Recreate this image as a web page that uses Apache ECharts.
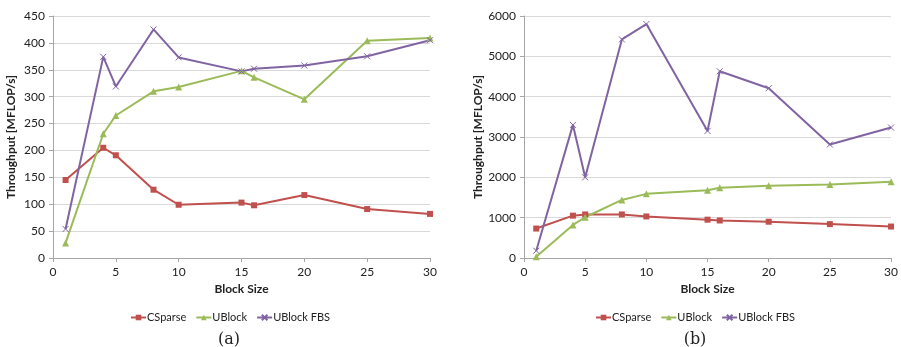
<!DOCTYPE html>
<html>
<head>
<meta charset="utf-8">
<script src="https://cdn.jsdelivr.net/npm/echarts@6/dist/echarts.min.js"></script>
<style>
  html, body { margin: 0; padding: 0; background: #fff; }
  #chart { width: 901px; height: 347px; }
</style>
</head>
<body>
<div id="chart"></div>
<script>
// Block sizes measured
const blockSizes = [1, 4, 5, 8, 10, 15, 16, 20, 25, 30];

// Panel (a) throughput, MFLOP/s
const csparseA = [145, 205, 191, 127, 99, 103, 98, 117, 91, 82];
const ublockA = [28, 231, 265, 310, 318, 348, 336, 295, 404, 409];
const ublockFbsA = [54, 374, 319, 425, 373, 347, 352, 358, 375, 405];

// Panel (b) throughput, MFLOP/s
const csparseB = [730, 1050, 1080, 1080, 1030, 950, 930, 900, 840, 780];
const ublockB = [30, 820, 1010, 1440, 1590, 1680, 1740, 1790, 1820, 1890];
const ublockFbsB = [180, 3300, 2000, 5420, 5800, 3150, 4630, 4210, 2815, 3235];

const seriesNames = ['CSparse', 'UBlock', 'UBlock FBS'];
const panelLabels = ['(a)', '(b)'];

const RED = '#C0504D', GREEN = '#9BBB59', PURPLE = '#8064A2';
const FONT = 'Lato, "Open Sans", sans-serif';
const crossPath = 'path://M0,0L10,10M0,10L10,0';

const pair = (ys) => blockSizes.map((x, i) => [x, ys[i]]);

function xAxis(gi) {
  return {
    type: 'value', gridIndex: gi, min: 0, max: 30, interval: 5,
    name: 'Block Size', nameLocation: 'middle', nameGap: 25,
    nameTextStyle: { fontFamily: FONT, fontSize: 12, fontWeight: 'bold', color: '#222' },
    axisLine: { lineStyle: { color: '#A6A6A6', width: 1 } },
    axisTick: { show: true, length: 4, lineStyle: { color: '#A6A6A6' } },
    axisLabel: { fontFamily: FONT, fontSize: 12, color: '#222', margin: 8 },
    splitLine: { show: false }
  };
}
function yAxis(gi, max, interval, gap) {
  return {
    type: 'value', gridIndex: gi, min: 0, max: max, interval: interval,
    name: 'Throughput [MFLOP/s]', nameLocation: 'middle', nameGap: gap,
    nameTextStyle: { fontFamily: FONT, fontSize: 12, fontWeight: 'bold', color: '#222' },
    axisLine: { show: true, lineStyle: { color: '#A6A6A6', width: 1 } },
    axisTick: { show: true, length: 4, lineStyle: { color: '#A6A6A6' } },
    axisLabel: { fontFamily: FONT, fontSize: 12, color: '#222', margin: 8, formatter: (v) => String(v) },
    splitLine: { show: true, lineStyle: { color: '#D9D9D9', width: 1 } }
  };
}
function line(name, color, symbol, size, gi, ys) {
  return {
    name: name, type: 'line', xAxisIndex: gi, yAxisIndex: gi,
    data: pair(ys), symbol: symbol, symbolSize: size, showSymbol: true,
    lineStyle: { color: color, width: 2 },
    itemStyle: { color: color, borderColor: color, borderWidth: symbol === crossPath ? 1 : 0 },
    emphasis: { disabled: true }, animation: false, z: 3
  };
}
function legend(x) {
  return {
    data: seriesNames, left: x, top: 307, itemGap: 9, itemWidth: 15, itemHeight: 7,
    textStyle: { fontFamily: FONT, fontSize: 11, color: '#222', padding: [0, 0, 0, -4] },
    selectedMode: false
  };
}

const chart = echarts.init(document.getElementById('chart'));
chart.setOption({
  animation: false,
  backgroundColor: '#fff',
  grid: [
    { left: 53, right: 471, top: 16, bottom: 89 },
    { left: 524, right: 5, top: 16, bottom: 89 }
  ],
  xAxis: [xAxis(0), xAxis(1)],
  yAxis: [yAxis(0, 450, 50, 36), yAxis(1, 6000, 1000, 39)],
  legend: [legend(125), legend(590)],
  title: [
    { text: panelLabels[0], left: 224, top: 327, textAlign: 'center',
      textStyle: { fontFamily: '"DejaVu Serif", "Liberation Serif", serif', fontSize: 16, fontWeight: 'normal', color: '#222' } },
    { text: panelLabels[1], left: 690, top: 327, textAlign: 'center',
      textStyle: { fontFamily: '"DejaVu Serif", "Liberation Serif", serif', fontSize: 16, fontWeight: 'normal', color: '#222' } }
  ],
  series: [
    line(seriesNames[0], RED, 'rect', 6, 0, csparseA),
    line(seriesNames[1], GREEN, 'triangle', 7, 0, ublockA),
    line(seriesNames[2], PURPLE, crossPath, 6, 0, ublockFbsA),
    line(seriesNames[0], RED, 'rect', 6, 1, csparseB),
    line(seriesNames[1], GREEN, 'triangle', 7, 1, ublockB),
    line(seriesNames[2], PURPLE, crossPath, 6, 1, ublockFbsB)
  ]
});
</script>
</body>
</html>
